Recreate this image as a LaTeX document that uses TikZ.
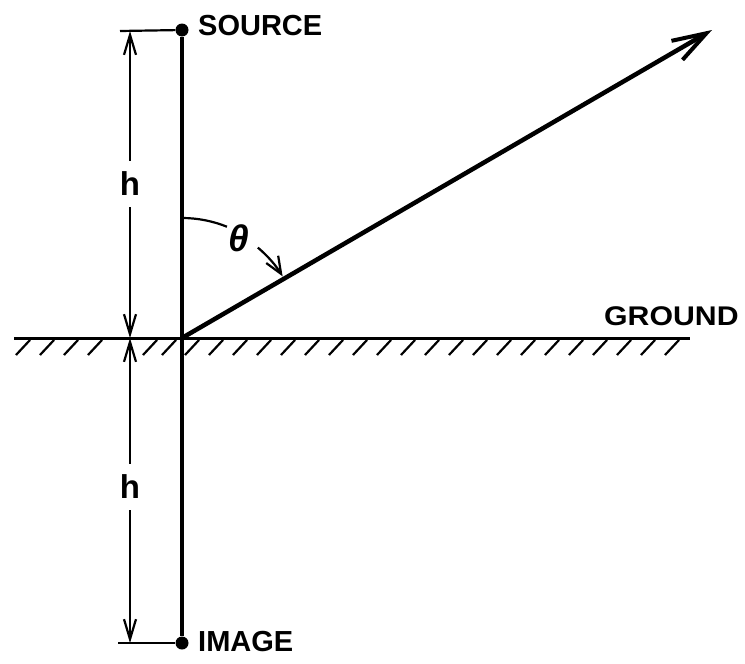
\documentclass[tikz,border=0pt]{standalone}
\usepackage{fontspec}
\newfontfamily\lbl{Liberation Sans}
\usetikzlibrary{arrows.meta}
\begin{document}
\begin{tikzpicture}[x=1pt,y=-1pt,
  mainline/.style={line width=4.5pt},
  groundline/.style={line width=3pt},
  hatchline/.style={line width=2.2pt},
  dimline/.style={line width=2.2pt},
  dimtip/.style={-{Straight Barb[length=20pt,width=12pt,line width=2.2pt]}},
  dot/.style={circle,fill=black,inner sep=0pt,minimum size=13pt},
  lab/.style={inner sep=0pt,font={\lbl\bfseries\fontsize{29}{32}\selectfont}},
  hlab/.style={inner sep=0pt,minimum height=46pt,font={\lbl\bfseries\fontsize{33}{35}\selectfont}},
]
\useasboundingbox (0,0) rectangle (745,664);
% main points
\coordinate (O) at (182,338);
\node[dot] (src) at (182,30) {};
\node[dot] (img) at (182,643) {};
\coordinate (tip) at (712,30);
% labels
\node[lab,anchor=west] (srclab) at (198,26) {SOURCE};
\node[lab,anchor=west] (imglab) at (198,642) {IMAGE};
\node[lab,anchor=west,font={\lbl\bfseries\fontsize{27}{30}\selectfont}] (gndlab) at (604,316) {\scalebox{1.12}[1]{GROUND}};
% vertical source-image line
\draw[mainline] (src) -- (img);
% ground
\coordinate (gl) at (14,338);
\coordinate (gr) at (690,338);
\draw[groundline] (gl) -- (gr);
\foreach \x in {16,40,64,88,143,162,185,209,233,257,281,305,329,353,377,401,425,449,473,497,521,545,569,593,617,641,665}
  \draw[hatchline] (\x,355) -- ++(14,-15);
% ray
\draw[mainline,-{Straight Barb[length=34pt,width=22pt,line width=4pt]}] (O) -- (tip);
% angle
\draw[line width=2.2pt] (O) ++(-90:120) arc[start angle=-90,end angle=-68,radius=120];
\draw[line width=2.2pt,-{Straight Barb[length=17pt,width=14pt,line width=2.2pt]}] (O) ++(-50:118) arc[start angle=-50,end angle=-31.5,radius=118];
\node[font={\lbl\bfseries\itshape\fontsize{37}{39}\selectfont},inner sep=0pt] (th) at (239,238) {θ};
% dimension
\coordinate (ttl) at (120,31);
\coordinate (tbl) at (118,643);
\draw[dimline] (ttl) -- (src);
\draw[dimline] (tbl) -- (img);
\coordinate (dtop) at (130,31);
\coordinate (dmid) at (130,338);
\coordinate (dbot) at (130,643);
\node[hlab] (h1) at (130,184) {h};
\node[hlab] (h2) at (130,487) {h};
\draw[dimline,dimtip] (h1) -- (dtop);
\draw[dimline,dimtip] (h1) -- (dmid);
\draw[dimline,dimtip] (h2) -- (dmid);
\draw[dimline,dimtip] (h2) -- (dbot);
\end{tikzpicture}
\end{document}
